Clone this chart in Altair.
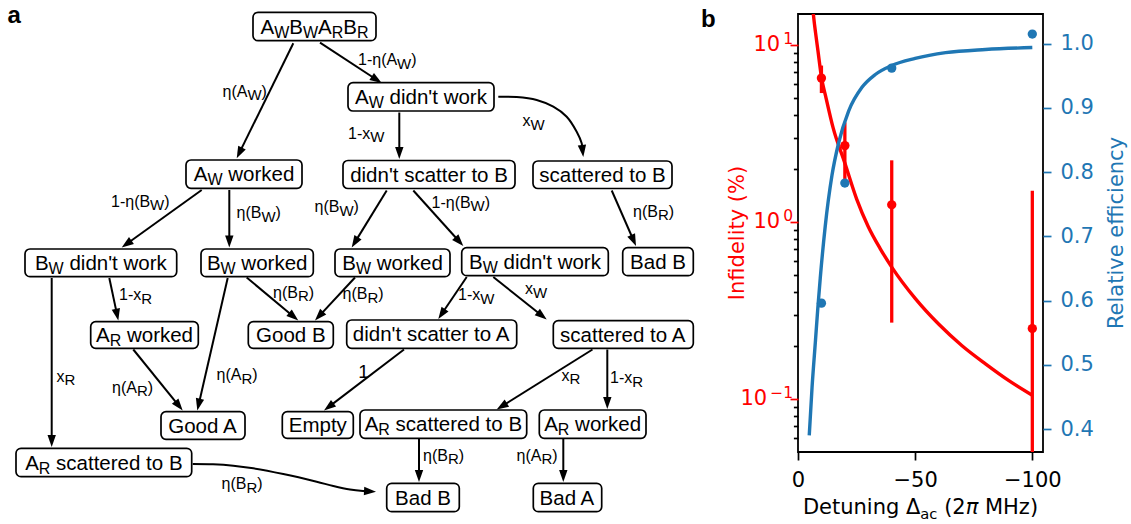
import math
import altair as alt
import pandas as pd

# ---------------------------------------------------------------- panel b data
detuning = [-10, -20, -40, -100]
infidelity = [6.5, 2.7, 1.25, 0.25]          # %
infidelity_err = [1.15, 0.95, 0.98, 1.25]    # %
efficiency = [0.596, 0.783, 0.962, 1.015]

infid_fit_det = [-6.3, -7.0, -7.5, -8.5, -10, -12, -15, -20, -25, -30, -35, -40,
                 -50, -60, -70, -80, -90, -100]
infid_fit_val = [16.0, 13.2, 11.7, 9.3, 6.6, 5.0, 3.4, 2.15, 1.35, 0.94, 0.71, 0.556,
                 0.37, 0.265, 0.20, 0.158, 0.127, 0.105]

eff_fit_det = [-4.8, -6.0, -7.4, -8.5, -9.5, -11.6, -14.5, -17.3, -21.6, -27.3, -33,
               -40, -50, -63, -80, -100]
eff_fit_val = [0.39, 0.465, 0.535, 0.59, 0.635, 0.715, 0.795, 0.845, 0.895, 0.932,
               0.952, 0.966, 0.977, 0.986, 0.991, 0.994]

det_ticks = [0, -50, -100]
infid_ticks = [0.06, 0.07, 0.08, 0.09, 0.1, 0.2, 0.3, 0.4, 0.5, 0.6, 0.7, 0.8, 0.9,
               1, 2, 3, 4, 5, 6, 7, 8, 9, 10]
infid_decades = [10, 1, 0.1]
infid_decade_exp = ["1", "0", "\u22121"]
eff_ticks = [0.4, 0.5, 0.6, 0.7, 0.8, 0.9, 1.0]

# ---------------------------------------------------------------- panel a data
# node boxes (page pixels); "_X" marks a subscript character
box_labels = ["A_WB_WA_RB_R", "A_W worked", "A_W didn't work", "didn't scatter to B",
              "scattered to B", "B_W didn't work", "B_W worked", "B_W worked",
              "B_W didn't work", "Bad B", "A_R worked", "Good B", "didn't scatter to A",
              "scattered to A", "Good A", "Empty", "A_R scattered to B", "A_R worked",
              "A_R scattered to B", "Bad B", "Bad A"]
box_x1 = [253, 186, 348, 343, 533, 25, 201, 335, 461.7, 622.7, 90.7, 248.3, 346.7,
          553.3, 161, 282.3, 360, 539.3, 16, 386.7, 533.3]
box_x2 = [376, 302, 494, 515, 672, 176.7, 313.3, 450, 608.3, 693.3, 198.3, 333.3, 516.7,
          693.3, 245, 353.3, 526.7, 646, 191.7, 459.3, 601.7]
box_y1 = [12.3, 160, 82.7, 160.5, 161, 249, 249, 249, 247.7, 247.7, 321.7, 321.7, 320,
          320.7, 411.7, 411.7, 410, 410, 448.3, 483.3, 483.3]
box_y2 = [40.7, 188.3, 111, 188.5, 188.5, 276.7, 276.7, 276.7, 275.7, 275.7, 348.3, 348.3,
          348.3, 348.3, 439.3, 438.3, 438.3, 438.3, 476.7, 511.7, 511.7]

# straight arrows: start -> tip
edge_x1 = [293.3, 320, 399.3, 201.7, 229.3, 386.7, 413.3, 611.7, 109.3, 51.7, 227.7,
           133.3, 246.7, 355, 466.7, 493.3, 404, 592.5, 607.3, 419, 563.3]
edge_y1 = [43.3, 42.7, 112.5, 190, 190, 190.5, 190.5, 190.5, 278, 278, 278, 349.5,
           277.5, 277.5, 277, 277, 349.5, 349.5, 349.5, 439, 439]
edge_x2 = [236.7, 381.7, 399.3, 121.7, 229.3, 351.7, 463.3, 636, 118.3, 51.7, 197.3,
           182.7, 298.3, 315, 438.3, 546.7, 324, 496.7, 607.3, 419, 563.3]
edge_y2 = [158.3, 83, 159, 247.5, 247.5, 247.5, 246, 246, 320.5, 447, 410.5, 410.5,
           320.5, 320.5, 319, 319.5, 410.5, 409.5, 409, 482, 482]

# curved arrows, traced along their path (last point is the tip)
curve1_x = [498.3, 516.7, 536.7, 553.3, 566.7, 576.7, 581.7, 583.3]
curve1_y = [96.7, 97, 100, 106.7, 116.7, 131.7, 143.3, 157]
curve2_x = [192.7, 213, 233.3, 253.3, 283.3, 316.7, 333.3, 350, 363, 376]
curve2_y = [464, 464.3, 465.7, 468.3, 474, 481.7, 486, 489.5, 491, 491.7]

# edge labels: text, left x, baseline y
elabel_text = ["\u03b7(A_W)", "1-\u03b7(A_W)", "1-x_W", "x_W", "1-\u03b7(B_W)", "\u03b7(B_W)",
               "\u03b7(B_W)", "1-\u03b7(B_W)", "\u03b7(B_R)", "1-x_R", "\u03b7(B_R)", "\u03b7(B_R)",
               "1-x_W", "x_W", "x_R", "\u03b7(A_R)", "\u03b7(A_R)", "x_R", "1-x_R",
               "\u03b7(B_R)", "\u03b7(A_R)", "\u03b7(B_R)"]
elabel_x = [222.5, 358, 348, 522.5, 111, 236.5, 314.5, 431.5, 633, 119, 273, 342.5,
            458, 525, 56.5, 216.5, 112, 561.5, 610, 423, 516.5, 221.5]
elabel_y = [96.5, 65, 138.5, 126, 206.5, 218.3, 212.3, 207.7, 216.7, 300, 297.7, 299,
            300, 294, 381.7, 380, 392.7, 380.7, 383.3, 460.7, 460.7, 489.3]
one_label = ["1"]
one_label_x = [358.3]
one_label_y = [378.3]

RED = "#ff0000"
BLUE = "#1f77b4"
PLOT_FONT = "DejaVu Sans"
DIAG_FONT = "Liberation Sans"

# plot-area placement on the page
PLOT_LEFT, PLOT_TOP, PLOT_W, PLOT_H = 798, 14, 245, 438
PAGE_W, PAGE_H = 1131, 524

# advance widths (per 1000 em) of Liberation Sans / Arial
ARIAL_W = {" ": 278, "'": 191, "(": 333, ")": 333, "-": 333, "1": 556,
           "A": 667, "B": 667, "E": 667, "G": 778, "R": 722, "W": 944,
           "a": 556, "c": 500, "d": 556, "e": 556, "i": 222, "k": 500, "m": 833,
           "n": 556, "o": 556, "p": 556, "r": 333, "s": 500, "t": 278, "u": 556,
           "w": 722, "x": 500, "y": 500, "\u03b7": 556}
# advance widths (per 2048 em) of DejaVu Sans
DEJAVU_W = {"D": 1577, "e": 1260, "t": 803, "u": 1298, "n": 1298, "i": 569, "g": 1300,
            " ": 651, "\u0394": 1401, "a": 1255, "c": 1126, "(": 799, "2": 1303,
            "\u03c0": 1229, "M": 1767, "H": 1540, "z": 1075, ")": 799, "1": 1303,
            "0": 1303, "\u2212": 1716}


def arial_w(t, fs):
    return sum(ARIAL_W[c] for c in t) * fs / 1000.0


def dejavu_w(t, fs):
    return sum(DEJAVU_W[c] for c in t) * fs / 2048.0


def split_runs(s):
    runs, buf, i = [], "", 0
    while i < len(s):
        if s[i] == "_":
            if buf:
                runs.append((buf, False))
                buf = ""
            runs.append((s[i + 1], True))
            i += 2
        else:
            buf += s[i]
            i += 1
    if buf:
        runs.append((buf, False))
    return runs


def runs_width(s, fs, sub_fs):
    return sum(arial_w(t, sub_fs if sub else fs) for t, sub in split_runs(s))


def place_runs(s, x0, base, fs, sub_fs, sub_dy, rows):
    x = x0
    for t, sub in split_runs(s):
        f = sub_fs if sub else fs
        lead = len(t) - len(t.lstrip(" "))
        rows.append({"x": x + arial_w(" " * lead, f),
                     "y": base + (sub_dy if sub else 0.0),
                     "t": t.strip(" "), "fs": f})
        x += arial_w(t, f)


# text rows for node boxes and edge labels
text_rows = []
for lab, a, b, c, d in zip(box_labels, box_x1, box_x2, box_y1, box_y2):
    w = runs_width(lab, 20.5, 16)
    place_runs(lab, (a + b) / 2 - w / 2, (c + d) / 2 + 7.0, 20.5, 16, 4.3, text_rows)
for lab, x, y in zip(elabel_text, elabel_x, elabel_y):
    place_runs(lab, x, y, 16, 15, 3.5, text_rows)
for lab, x, y in zip(one_label, one_label_x, one_label_y):
    place_runs(lab, x, y, 19, 19, 0, text_rows)
text_df = pd.DataFrame(text_rows)

box_df = pd.DataFrame({"x1": box_x1, "x2": box_x2, "y1": box_y1, "y2": box_y2})

# arrows: connector polyline stops inside the head, head sits on the tip
HEAD_LEN = 12
line_rows, head_rows = [], []


def add_arrow(xs, ys, eid):
    dx, dy = xs[-1] - xs[-2], ys[-1] - ys[-2]
    n = math.hypot(dx, dy)
    ux, uy = dx / n, dy / n
    pts = list(zip(xs, ys))
    pts[-1] = (xs[-1] - ux * HEAD_LEN * 0.5, ys[-1] - uy * HEAD_LEN * 0.5)
    for k, (px_, py_) in enumerate(pts):
        line_rows.append({"e": eid, "k": k, "x": px_, "y": py_})
    head_rows.append({"x": xs[-1], "y": ys[-1],
                      "a": math.degrees(math.atan2(dx, -dy)) % 360})


for i, (a, b, c, d) in enumerate(zip(edge_x1, edge_y1, edge_x2, edge_y2)):
    add_arrow([a, c], [b, d], f"s{i}")
add_arrow(curve1_x, curve1_y, "c1")
add_arrow(curve2_x, curve2_y, "c2")
line_df = pd.DataFrame(line_rows)
head_df = pd.DataFrame(head_rows)

# x-axis title of panel b, built from runs (subscript, italic pi)
xt_runs = [("Detuning \u0394", 21, 0, False), ("ac", 14.7, 5, False), (" (2", 21, 0, False),
           ("\u03c0", 21, 0, True), (" MHz)", 21, 0, False)]
xt_total = sum(dejavu_w(t, f) for t, f, _, _ in xt_runs)
xt_rows, x_cur = [], (PLOT_LEFT + PLOT_LEFT + PLOT_W) / 2 - xt_total / 2
for t, f, dy, it in xt_runs:
    lead = len(t) - len(t.lstrip(" "))
    xt_rows.append({"x": x_cur + dejavu_w(" " * lead, f), "y": 513.5 + dy,
                    "t": t.strip(" "), "fs": f, "it": it})
    x_cur += dejavu_w(t, f)
xt_df = pd.DataFrame(xt_rows)

# ---------------------------------------------------------------- panel b layers
x_scale = alt.Scale(domain=[-104.56, 0], reverse=True, nice=False, zero=False)
y_log_scale = alt.Scale(type="log", domain=[0.05018, 14.96], nice=False)
y_eff_scale = alt.Scale(domain=[0.36419, 1.04625], nice=False, zero=False)

decade_test = "abs(log(datum.value)/LN10 - round(log(datum.value)/LN10)) < 0.001"
axis_left = alt.Axis(orient="left", values=infid_ticks, labels=False, domain=False,
                     grid=False, title=None, tickWidth=1.7,
                     tickSize={"condition": {"test": decade_test, "value": 8}, "value": 4.6},
                     tickColor={"condition": {"test": decade_test, "value": RED},
                                "value": "black"})
axis_bottom = alt.Axis(orient="bottom", values=det_ticks, format="d", domain=False,
                       grid=False, title=None, tickSize=8, tickWidth=1.7,
                       tickColor="black", labelColor="black", labelFont=PLOT_FONT,
                       labelFontSize=21, labelPadding=9, labelFlush=False)
axis_right = alt.Axis(orient="right", values=eff_ticks, format=".1f", domain=False,
                      grid=False, title=None, tickSize=8, tickWidth=1.7, tickColor=BLUE,
                      labelColor=BLUE, labelFont=PLOT_FONT, labelFontSize=21,
                      labelPadding=9, labelFlush=False)


def xb():
    return alt.X("det:Q", scale=x_scale, axis=axis_bottom)


def yl(field):
    return alt.Y(field, scale=y_log_scale, axis=axis_left)


pts_df = pd.DataFrame({
    "det": detuning, "inf": infidelity, "eff": efficiency,
    # a log axis cannot show non-positive bounds; those run off the bottom
    "lo": [max(v - e, 0.01) for v, e in zip(infidelity, infidelity_err)],
    "hi": [v + e for v, e in zip(infidelity, infidelity_err)],
})
infid_fit_df = pd.DataFrame({"det": infid_fit_det, "inf": infid_fit_val})
eff_fit_df = pd.DataFrame({"det": eff_fit_det, "eff": eff_fit_val})

red_fit = alt.Chart(infid_fit_df).mark_line(
    color=RED, strokeWidth=3.4, clip=True, interpolate="monotone"
).encode(x=xb(), y=yl("inf:Q"))
red_err = alt.Chart(pts_df).mark_rule(color=RED, strokeWidth=3.3, clip=True).encode(
    x=xb(), y=yl("lo:Q"), y2="hi:Q")
red_pts = alt.Chart(pts_df).mark_circle(color=RED, size=87, opacity=1).encode(
    x=xb(), y=yl("inf:Q"))

# "10^n" tick labels of the log axis
decade_layers = []
for v, e in zip(infid_decades, infid_decade_exp):
    sup_w = dejavu_w(e, 15.5)
    ddf = pd.DataFrame({"v": [v], "e": [e], "b": ["10"]})
    decade_layers.append(alt.Chart(ddf).mark_text(
        align="right", baseline="middle", dy=-5.5, font=PLOT_FONT, fontSize=15.5,
        color=RED).encode(y=yl("v:Q"), x=alt.value(-5), text="e:N"))
    decade_layers.append(alt.Chart(ddf).mark_text(
        align="right", baseline="middle", font=PLOT_FONT, fontSize=21,
        color=RED).encode(y=yl("v:Q"), x=alt.value(-5 - sup_w - 3), text="b:N"))

red_group = alt.layer(red_fit, red_err, red_pts, *decade_layers)

x_blue = alt.X("det:Q", scale=x_scale, axis=None)
blue_fit = alt.Chart(eff_fit_df).mark_line(
    color=BLUE, strokeWidth=3.4, clip=True, interpolate="monotone"
).encode(x=x_blue, y=alt.Y("eff:Q", scale=y_eff_scale, axis=axis_right))
blue_pts = alt.Chart(pts_df).mark_circle(color=BLUE, size=87, opacity=1).encode(
    x=x_blue, y=alt.Y("eff:Q", scale=y_eff_scale, axis=axis_right))
blue_group = alt.layer(blue_fit, blue_pts)

# ---------------------------------------------------------------- page-coordinate layers
sx = alt.Scale(domain=[PLOT_LEFT, PLOT_LEFT + PLOT_W], nice=False, zero=False)
sy = alt.Scale(domain=[PLOT_TOP, PLOT_TOP + PLOT_H], reverse=True, nice=False, zero=False)


def px(field):
    return alt.X(field, scale=sx, axis=None)


def py(field):
    return alt.Y(field, scale=sy, axis=None)


connectors = alt.Chart(line_df).mark_line(
    color="black", strokeWidth=2, interpolate="catmull-rom"
).encode(x=px("x:Q"), y=py("y:Q"), detail="e:N", order="k:Q")
heads = alt.Chart(head_df).mark_point(
    shape="M0,0L-0.7,2L0.7,2Z", filled=True, size=144, color="black", opacity=1,
    strokeWidth=0
).encode(x=px("x:Q"), y=py("y:Q"), angle=alt.Angle("a:Q", scale=None))
boxes = alt.Chart(box_df).mark_rect(
    cornerRadius=5, fill="white", stroke="black", strokeWidth=1.7
).encode(x=px("x1:Q"), x2="x2:Q", y=py("y1:Q"), y2="y2:Q")
diag_text = alt.Chart(text_df).mark_text(
    align="left", baseline="alphabetic", font=DIAG_FONT, color="black"
).encode(x=px("x:Q"), y=py("y:Q"), text="t:N", size=alt.Size("fs:Q", scale=None))

panel_df = pd.DataFrame({"t": ["a", "b"], "x": [7.5, 701], "y": [23.3, 26.7]})
panel_tags = alt.Chart(panel_df).mark_text(
    align="left", baseline="alphabetic", font=DIAG_FONT, fontSize=24, fontWeight="bold",
    color="black").encode(x=px("x:Q"), y=py("y:Q"), text="t:N")

xt_plain = alt.Chart(xt_df[~xt_df["it"]]).mark_text(
    align="left", baseline="alphabetic", font=PLOT_FONT, color="black"
).encode(x=px("x:Q"), y=py("y:Q"), text="t:N", size=alt.Size("fs:Q", scale=None))
xt_italic = alt.Chart(xt_df[xt_df["it"]]).mark_text(
    align="left", baseline="alphabetic", font=PLOT_FONT, fontStyle="italic", color="black"
).encode(x=px("x:Q"), y=py("y:Q"), text="t:N", size=alt.Size("fs:Q", scale=None))

ytitle_df = pd.DataFrame({"t": ["Infidelity (%)", "Relative efficiency"],
                          "x": [738, 1116.5], "y": [233, 233], "c": [RED, BLUE]})
y_titles = alt.Chart(ytitle_df).mark_text(
    angle=270, align="center", baseline="middle", font=PLOT_FONT, fontSize=21
).encode(x=px("x:Q"), y=py("y:Q"), text="t:N", color=alt.Color("c:N", scale=None))

page_group = alt.layer(connectors, heads, boxes, diag_text, panel_tags,
                       xt_plain, xt_italic, y_titles)

chart = alt.layer(red_group, blue_group, page_group).resolve_scale(
    x="independent", y="independent"
).properties(
    width=PLOT_W, height=PLOT_H,
    background="white",
    autosize=alt.AutoSizeParams(type="none"),
    padding={"left": PLOT_LEFT, "top": PLOT_TOP,
             "right": PAGE_W - PLOT_LEFT - PLOT_W, "bottom": PAGE_H - PLOT_TOP - PLOT_H},
).configure_view(stroke="black", strokeWidth=1.8)

chart.save("out.html", embed_options={"renderer": "svg", "actions": False})
